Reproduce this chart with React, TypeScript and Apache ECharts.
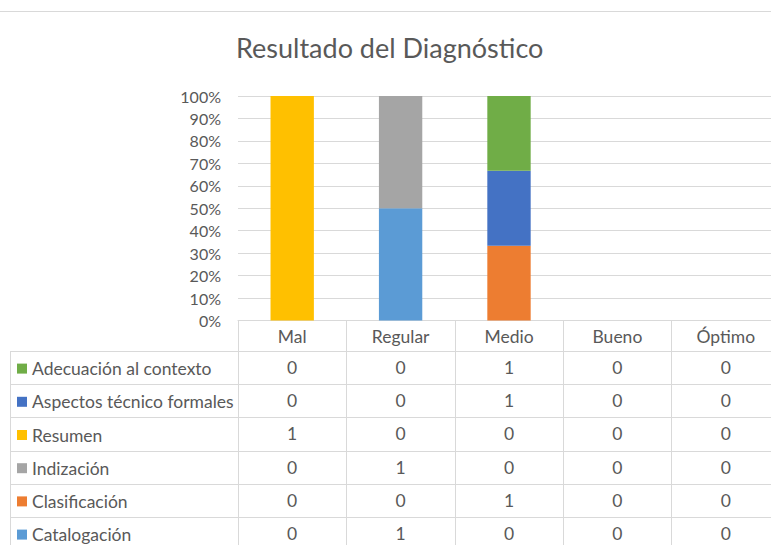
import React, { useEffect, useRef } from "react";
import * as echarts from "echarts";

const categories = ["Mal", "Regular", "Medio", "Bueno", "Óptimo"];
// Series listed bottom-of-stack first
const seriesNames = [
  "Catalogación",
  "Clasificación",
  "Indización",
  "Resumen",
  "Aspectos técnico formales",
  "Adecuación al contexto",
];
const catalogacion = [0, 1, 0, 0, 0];
const clasificacion = [0, 0, 1, 0, 0];
const indizacion = [0, 1, 0, 0, 0];
const resumen = [1, 0, 0, 0, 0];
const aspectos = [0, 0, 1, 0, 0];
const adecuacion = [0, 0, 1, 0, 0];
const seriesValues = [catalogacion, clasificacion, indizacion, resumen, aspectos, adecuacion];
const seriesColors = ["#5B9BD5", "#ED7D31", "#A5A5A5", "#FFC000", "#4472C4", "#70AD47"];
const yTicks = [0, 10, 20, 30, 40, 50, 60, 70, 80, 90, 100];

const FONT = "Lato";
const TXT = "#595959";
const LINE = "#D9D9D9";
const TABLE_FS = 17.5;

export default function App() {
  const ref = useRef<HTMLDivElement>(null);
  useEffect(() => {
    if (!ref.current) return;
    const chart = echarts.init(ref.current, null, { renderer: "svg" });
    const totals = categories.map((_, i) => seriesValues.reduce((s, arr) => s + arr[i], 0));
    const pct = seriesValues.map((arr) => arr.map((v, i) => (totals[i] ? (v / totals[i]) * 100 : 0)));

    const rowOffsets = [31, 64, 97, 131, 164, 197];
    // table rows listed top-first (reverse of stacking order)
    const tableOrder = seriesValues.map((_, i) => seriesValues.length - 1 - i);

    const xAxes: any[] = [
      {
        type: "category",
        data: categories,
        position: "bottom",
        offset: 0,
        axisLine: { show: true, lineStyle: { color: LINE, width: 1 } },
        axisTick: { show: true, length: 31, alignWithLabel: false, lineStyle: { color: LINE } },
        axisLabel: { color: TXT, fontFamily: FONT, fontSize: TABLE_FS, margin: 7 },
      },
    ];
    tableOrder.forEach((si, r) => {
      const vals = seriesValues[si];
      xAxes.push({
        type: "category",
        data: categories,
        position: "bottom",
        offset: rowOffsets[r],
        axisLine: { show: true, lineStyle: { color: LINE, width: 1 } },
        axisTick: { show: true, length: 34, alignWithLabel: false, lineStyle: { color: LINE } },
        axisLabel: {
          color: TXT,
          fontFamily: FONT,
          fontSize: TABLE_FS,
          margin: 7,
          formatter: (_v: string, idx: number) => String(vals[idx]),
        },
      });
    });

    const rowLines = rowOffsets.map((o) => ({
      type: "line",
      shape: { x1: 10, y1: 320.5 + o, x2: 238, y2: 320.5 + o },
      style: { stroke: LINE, lineWidth: 1 },
    }));

    chart.setOption({
      animation: false,
      title: {
        text: "Resultado del Diagnóstico",
        left: 236,
        top: 34,
        padding: 0,
        textStyle: { color: TXT, fontFamily: FONT, fontSize: 27, fontWeight: "normal" },
      },
      legend: {
        data: tableOrder.map((i) => seriesNames[i]),
        orient: "vertical",
        left: 17,
        top: 352,
        height: 260,
        padding: 0,
        itemGap: 0,
        itemWidth: 10,
        itemHeight: 10,
        icon: "rect",
        selectedMode: false,
        textStyle: { color: TXT, fontFamily: FONT, fontSize: TABLE_FS, lineHeight: 33.2 },
      },
      grid: { left: 238, top: 96, width: 542, height: 224.5, containLabel: false },
      xAxis: xAxes,
      yAxis: {
        type: "value",
        min: 0,
        max: 100,
        interval: 10,
        axisLine: { show: false },
        axisTick: { show: false },
        splitLine: { lineStyle: { color: LINE, width: 1 } },
        axisLabel: {
          color: TXT,
          fontFamily: FONT,
          fontSize: 16,
          margin: 17,
          formatter: (v: number) => (yTicks.includes(v) ? v + "%" : ""),
        },
      },
      graphic: [
        { type: "line", shape: { x1: 0, y1: 11.5, x2: 800, y2: 11.5 }, style: { stroke: LINE, lineWidth: 1 } },
        { type: "line", shape: { x1: 10.5, y1: 351.5, x2: 10.5, y2: 545 }, style: { stroke: LINE, lineWidth: 1 } },
        ...rowLines,
      ],
      series: seriesNames.map((name, i) => ({
        name,
        type: "bar",
        stack: "total",
        barWidth: "40%",
        xAxisIndex: 0,
        itemStyle: { color: seriesColors[i] },
        data: pct[i],
      })),
    });
    return () => chart.dispose();
  }, []);
  return (
    <div style={{ position: "fixed", left: 0, top: 0, width: 771, height: 545, overflow: "hidden", background: "#fff" }}>
      <div ref={ref} style={{ width: 800, height: 545 }} />
    </div>
  );
}
